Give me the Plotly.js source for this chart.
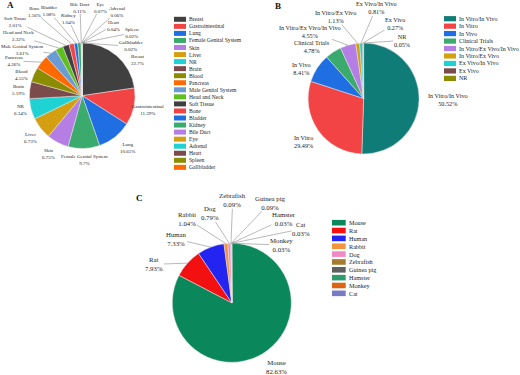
<!DOCTYPE html>
<html><head><meta charset="utf-8">
<script src="https://cdn.plot.ly/plotly-3.0.1.min.js"></script>
<style>html,body{margin:0;padding:0;background:#fff}</style>
</head><body><div id="chart" style="width:520px;height:375px"></div>
<script>
// ---------- DATA ----------
const tumorLabels = ["Breast","Gastrointestinal","Lung","Female Genital System","Skin","Liver","NR","Brain","Blood","Pancreas","Male Genital System","Head and Neck","Soft Tissue","Bone","Bladder","Kidney","Bile Duct","Eye","Adrenal","Heart","Spleen","Gallbladder"];
const tumorValues = [22.7,11.39,10.65,9.7,6.75,6.73,6.34,5.19,4.55,4.26,3.61,2.32,2.01,1.56,1.08,1.04,0.11,0.07,0.06,0.04,0.02,0.02];

const modelLabels = ["In Vitro/In Vivo","In Vitro","In Vivo","Clinical Trials","In Vitro/Ex Vivo/In Vivo","In Vitro/Ex Vivo","Ex Vivo/In Vivo","Ex Vivo","NR"];
const modelValues = [50.52,29.49,8.41,4.78,4.55,1.13,0.81,0.27,0.05];

const speciesLabels = ["Mouse","Rat","Human","Rabbit","Dog","Zebrafish","Guinea pig","Hamster","Monkey","Cat"];
const speciesValues = [82.63,7.93,7.33,1.04,0.79,0.09,0.09,0.03,0.03,0.03];

// ---------- STYLE ----------
const W = 520, H = 375;
const palette = ["#404040","#f24444","#1f6fe3","#3aab6d","#b57ee4","#d4a012","#1fd2d4","#7b4a4a","#8c8c00","#ff6a00","#6b9bd4","#5fbf1c"];
const colorsA = tumorLabels.map((_, i) => palette[i % palette.length]);
const colorsB = ["#107c77"].concat(palette.slice(1)).slice(0, modelLabels.length);
const colorsC = ["#0a875b","#f21010","#2424f0","#f5923c","#f08ac6","#a67b2d","#606060","#2e9c6e","#dc6414","#7a7ac4"];

const serif = "Liberation Serif, Times New Roman, serif";
const textColor = "#1e1e1e";
const lineColor = "#8a8a8a";

// panel geometry (pixels)
const panels = [
  { labels: tumorLabels, values: tumorValues, colors: colorsA, cx: 82.2, cy: 95.7, r: 52.8, labelSize: 5, legendSize: 5.6,
    legend: { x0: 174, x1: 186, y0: 19.3, dy: 7.05, h: 5 },
    labelPos: [[137,60],[148,110],[127,148],[84,160],[48,153.7],[30,138],[20,110.5],[18,90.3],[21,75],[14,61],[22,49.5],[18.3,36],[15.5,21.5],[34,11.5],[49,11.4],[68,18.7],[80,7.5],[100,7.5],[117,11.7],[113,25.5],[131.7,33],[130.5,46.4]],
    lines: [0,0,0,0,0,0,0,0,0,1,1,1,1,1,1,1,1,1,1,1,1,1],
    letter: { t: "A", x: 10, y: 5 } },
  { labels: modelLabels, values: modelValues, colors: colorsB, cx: 363.6, cy: 98.5, r: 55.5, labelSize: 6.2, legendSize: 6,
    legend: { x0: 444, x1: 456, y0: 18.7, dy: 7.46, h: 5.2 },
    labelPos: [[448,100],[303,141.7],[301.7,68.7],[311.7,46.7],[310,31.3],[335,16.7],[376,8],[395,23.7],[401.7,40.5]],
    lines: [0,0,0,0,1,1,1,1,1],
    letter: { t: "B", x: 278, y: 6 } },
  { labels: speciesLabels, values: speciesValues, colors: colorsC, cx: 231.8, cy: 302.8, r: 59.5, labelSize: 6.8, legendSize: 6.2,
    legend: { x0: 332, x1: 345.7, y0: 222.7, dy: 7.85, h: 5.6 },
    labelPos: [[276.7,366.7],[154.3,264.3],[176,239],[187.3,218.8],[210,213.3],[232.7,200.3],[270,202.8],[284,219],[281,245],[301,229]],
    lines: [0,1,1,1,1,1,1,1,1,1],
    letter: { t: "C", x: 139, y: 198 } }
];

const data = [];
const annotations = [];
const shapes = [];
const px = x => x / W;
const py = y => 1 - y / H;

panels.forEach(p => {
  data.push({
    type: "pie", labels: p.labels, values: p.values, sort: false, direction: "clockwise", rotation: 0,
    textinfo: "none", hoverinfo: "skip", showlegend: false,
    marker: { colors: p.colors, line: { color: "#e6e6e6", width: 0.5 } },
    domain: { x: [px(p.cx - p.r), px(p.cx + p.r)], y: [py(p.cy + p.r), py(p.cy - p.r)] }
  });
  const total = p.values.reduce((a, b) => a + b, 0);
  let cum = 0;
  p.values.forEach((v, i) => {
    const th = 2 * Math.PI * (cum + v / 2) / total;
    cum += v;
    const tx = p.cx + p.r * Math.sin(th), ty = p.cy - p.r * Math.cos(th);
    const [lx, ly] = p.labelPos[i];
    const txt = p.labels[i] + "<br>" + v + "%";
    const font = { family: serif, size: p.labelSize, color: textColor };
    if (p.lines[i]) {
      annotations.push({ xref: "paper", yref: "paper", x: px(tx), y: py(ty), ax: lx - tx, ay: ly - ty,
        axref: "pixel", ayref: "pixel", showarrow: true, arrowhead: 0, arrowwidth: 0.6, arrowcolor: lineColor,
        standoff: 0, text: txt, font: font, align: "center", borderpad: 0 });
    } else {
      annotations.push({ xref: "paper", yref: "paper", x: px(lx), y: py(ly), showarrow: false,
        xanchor: "center", yanchor: "middle", text: txt, font: font, align: "center", borderpad: 0 });
    }
    // legend entry
    const L = p.legend, yc = L.y0 + i * L.dy;
    shapes.push({ type: "rect", xref: "paper", yref: "paper", x0: px(L.x0), x1: px(L.x1),
      y0: py(yc + L.h / 2), y1: py(yc - L.h / 2), fillcolor: p.colors[i], line: { width: 0 } });
    annotations.push({ xref: "paper", yref: "paper", x: px(L.x1 + 2), y: py(yc), xanchor: "left", yanchor: "middle",
      showarrow: false, text: p.labels[i], font: { family: serif, size: p.legendSize, color: textColor }, borderpad: 0 });
  });
  annotations.push({ xref: "paper", yref: "paper", x: px(p.letter.x), y: py(p.letter.y), xanchor: "center", yanchor: "middle",
    showarrow: false, text: "<b>" + p.letter.t + "</b>", font: { family: serif, size: 9, color: "#111" } });
});

const layout = {
  width: W, height: H, margin: { l: 0, r: 0, t: 0, b: 0 },
  paper_bgcolor: "#fff", plot_bgcolor: "#fff", showlegend: false,
  annotations: annotations, shapes: shapes
};
Plotly.newPlot("chart", data, layout, { staticPlot: true, displayModeBar: false });
</script></body></html>
